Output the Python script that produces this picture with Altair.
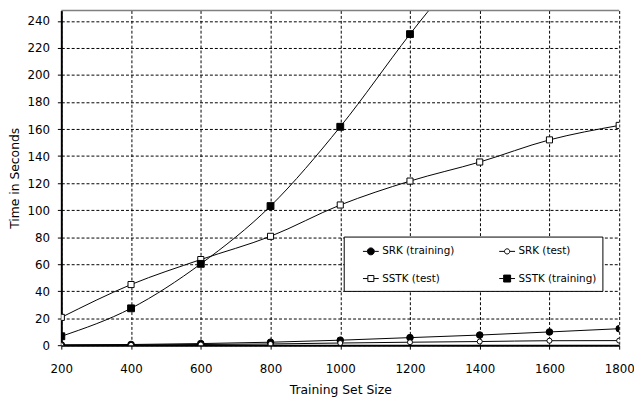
import altair as alt
import pandas as pd

# ---- data ----
sizes = [200, 400, 600, 800, 1000, 1200, 1400, 1600, 1800]
srk_training = [0.2, 0.5, 1.2, 2.2, 3.7, 5.6, 7.5, 9.8, 12.2]
srk_test = [0.05, 0.2, 0.5, 0.9, 1.6, 2.2, 2.7, 3.3, 3.4]
sstk_test = [20.6, 44.9, 63.4, 80.6, 103.8, 121.5, 135.6, 152.0, 162.7]
sstk_training = [6.6, 27.3, 60.2, 103.0, 161.7, 230.3, 295.0, 370.0, 450.0]

series_names = ["SRK (training)", "SRK (test)", "SSTK (test)", "SSTK (training)"]
series_values = [srk_training, srk_test, sstk_test, sstk_training]
# legend is filled column by column: this order gives the reference's rows
legend_order = ["SRK (training)", "SSTK (test)", "SRK (test)", "SSTK (training)"]
x_ticks = [200, 400, 600, 800, 1000, 1200, 1400, 1600, 1800]
y_ticks = [0, 20, 40, 60, 80, 100, 120, 140, 160, 180, 200, 220, 240]

rows = []
for name, vals in zip(series_names, series_values):
    for s, v in zip(sizes, vals):
        rows.append({"size": s, "value": v, "series": name})
df = pd.DataFrame(rows)

FONT = "DejaVu Sans"
W, H = 565, 339

xenc = alt.X("size:Q", scale=alt.Scale(domain=[200, 1800], nice=False),
             axis=alt.Axis(values=x_ticks, format="d", grid=True, gridDash=[3, 2], gridColor="black",
                           gridOpacity=1, gridWidth=1, domainColor="black", domainWidth=2,
                           tickColor="black", tickSize=4, labelFont=FONT, labelFontSize=12,
                           labelColor="black", labelPadding=15, labelFlush=False,
                           title="Training Set Size", titleFont=FONT, titleFontSize=12.5,
                           titleFontWeight="normal", titleColor="black",
                           titleY=45, titleBaseline="middle"))
yenc = alt.Y("value:Q", scale=alt.Scale(domain=[0, 247.8], nice=False, zero=True),
             axis=alt.Axis(values=y_ticks, format="d", grid=True, gridDash=[3, 2], gridColor="black",
                           gridOpacity=1, gridWidth=1, domainColor="black", domainWidth=2,
                           tickColor="black", tickSize=4, labelFont=FONT, labelFontSize=12,
                           labelColor="black", labelPadding=8,
                           title="Time in Seconds", titleFont=FONT, titleFontSize=12.5,
                           titleFontWeight="normal", titleColor="black",
                           titleX=-47, titleY=H / 2, titleAngle=270, titleBaseline="middle"))

base = alt.Chart(df)

lines = base.mark_line(color="black", strokeWidth=1, interpolate="monotone", clip=True).encode(
    x=xenc, y=yenc, detail="series:N")

marker_styles = {
    "SRK (training)": ("circle", "black", 45),
    "SRK (test)": ("circle", "white", 26),
    "SSTK (test)": ("square", "white", 38),
    "SSTK (training)": ("square", "black", 48),
}
point_layers = []
for name in series_names:
    shp, fc, sz = marker_styles[name]
    point_layers.append(
        base.transform_filter(alt.datum.series == name)
        .mark_point(shape=shp, filled=True, fill=fc, stroke="black", strokeWidth=1,
                    size=sz, opacity=1, clip=True)
        .encode(x=xenc, y=yenc)
    )

# legend symbols: short line with marker
sym_paths = {
    "SRK (training)": "M-1,0H-0.44M0.44,0H1M0.44,0A0.44,0.44,0,1,1,-0.44,0A0.44,0.44,0,1,1,0.44,0Z",
    "SRK (test)": "M-1,0H-0.33M0.33,0H1M0.33,0A0.33,0.33,0,1,1,-0.33,0A0.33,0.33,0,1,1,0.33,0Z",
    "SSTK (test)": "M-1,0H-0.38M0.38,0H1M-0.38,-0.38H0.38V0.38H-0.38Z",
    "SSTK (training)": "M-1,0H-0.44M0.44,0H1M-0.44,-0.44H0.44V0.44H-0.44Z",
}
sym_fill = {"SRK (training)": "black", "SRK (test)": "white",
            "SSTK (test)": "white", "SSTK (training)": "black"}

leg = alt.Legend(title=None, orient="none", legendX=286, legendY=229, columns=2,
                 columnPadding=31, rowPadding=13, padding=6, strokeColor="black",
                 fillColor="white", symbolSize=256, symbolOffset=13, labelOffset=3,
                 symbolStrokeWidth=1,
                 labelFont=FONT, labelFontSize=10.5, labelColor="black", labelLimit=300)

legend_layer = base.transform_filter("datum.size < 0").mark_point(
    filled=True, strokeWidth=1, opacity=1).encode(
    x=xenc, y=yenc,
    shape=alt.Shape("series:N", scale=alt.Scale(domain=legend_order,
                    range=[sym_paths[n] for n in legend_order]), legend=leg),
    fill=alt.Fill("series:N", scale=alt.Scale(domain=legend_order,
                  range=[sym_fill[n] for n in legend_order]), legend=leg),
    stroke=alt.Stroke("series:N", scale=alt.Scale(domain=legend_order,
                      range=["black"] * 4), legend=leg),
)

top_border = alt.Chart(pd.DataFrame({"a": [0]})).mark_rule(color="#808080", strokeWidth=1.5).encode(
    x=alt.value(0), x2=alt.value(W), y=alt.value(0))

chart = alt.layer(lines, *point_layers, legend_layer, top_border).properties(
    width=W, height=H, autosize="none",
    padding={"left": 54, "top": 0, "right": 15, "bottom": 52},
).configure_view(stroke=None)

chart.save("out.html", embed_options={"renderer": "svg", "actions": False})
